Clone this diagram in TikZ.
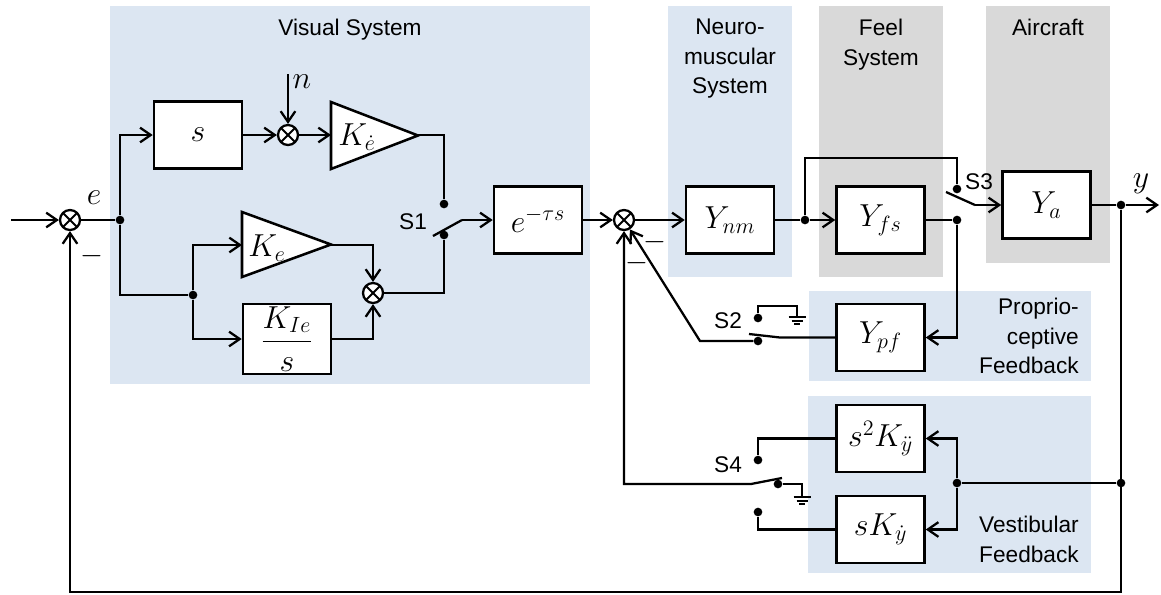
\RequirePackage{fix-cm}
\documentclass[tikz,border=0pt]{standalone}
\usepackage[no-math]{fontspec}
\setmainfont{Liberation Sans}
\usetikzlibrary{arrows.meta}
\definecolor{bgblue}{RGB}{220,230,242}
\definecolor{bggray}{RGB}{217,217,217}
\newcommand\lblfont{\fontsize{17}{22}\selectfont}
\newcommand\mthfont{\fontsize{20.74}{25}\selectfont}
\newcommand\mth[1]{\scalebox{1.15}{$#1$}}
\begin{document}
\begin{tikzpicture}[x=0.75pt,y=-0.75pt,
  ln/.style={line width=1.7pt},
  arr/.style={ln,-{Straight Barb[length=8pt,width=11pt,line width=1.7pt]}},
  blk/.style={draw,line width=1.9pt,fill=white,minimum width=66pt,minimum height=50pt,inner sep=0pt,font=\mthfont},
  sumn/.style={draw,fill=white,circle,line width=1.7pt,minimum size=15pt,inner sep=0pt,
    path picture={\draw[line width=1.5pt] (path picture bounding box.south east) -- (path picture bounding box.north west)
      (path picture bounding box.south west) -- (path picture bounding box.north east);}},
  dotn/.style={circle,fill=black,minimum size=6.5pt,inner sep=0pt},
  lbl/.style={font=\lblfont,inner sep=0pt},
  mlbl/.style={font=\mthfont,inner sep=0pt},
  tri/.style={draw,line width=1.9pt,fill=white,line join=miter},
  gnd/.style={line width=1.2pt},
]
\useasboundingbox (0,0) rectangle (1161,594);
% backgrounds
\fill[bgblue] (110,6) rectangle (590,384);
\fill[bgblue] (668,6) rectangle (792,277);
\fill[bggray] (819,6) rectangle (943,277);
\fill[bggray] (986,6) rectangle (1110,263);
\fill[bgblue] (809,291) rectangle (1091,381);
\fill[bgblue] (808,396) rectangle (1091,573);
% titles
\node[lbl,anchor=north] (tvis) at (350,19) {Visual System};
\node[lbl,anchor=north,align=center] (tneu) at (730,19) {Neuro-\\muscular\\System};
\node[lbl,anchor=north,align=center] (tfeel) at (881,19) {Feel\\System};
\node[lbl,anchor=north] (tair) at (1048,19) {Aircraft};
\node[lbl,anchor=north east,align=right] (tpro) at (1079,298) {Proprio-\\ceptive\\Feedback};
\node[lbl,anchor=north east,align=right] (tves) at (1079,516) {Vestibular\\Feedback};
% blocks
\node[blk] (sbox) at (198,135) {\mth{s}};
\node[blk,minimum height=52.5pt] (kie) at (287,339) {\mth{\displaystyle\frac{K_{Ie}}{s}}};
\node[blk] (ebox) at (538,220) {\mth{e^{-\tau s}}};
\node[blk] (ynm) at (730,220) {\mth{Y_{nm}}};
\node[blk] (yfs) at (880.5,220) {\mth{Y_{fs}}};
\node[blk] (ya) at (1046.5,205) {\mth{Y_{a}}};
\node[blk] (ypf) at (880.5,337.5) {\mth{Y_{pf}}};
\node[blk] (s2k) at (880.5,438.5) {\mth{s^2K_{\ddot y}}};
\node[blk] (sk) at (880.5,529.5) {\mth{sK_{\dot y}}};
% sums
\node[sumn] (sum1) at (70,220) {};
\node[sumn] (sum2) at (288,135) {};
\node[sumn] (sum3) at (373,293) {};
\node[sumn] (sum4) at (624,220) {};
% triangles
\draw[tri] (331,102) -- (418,135.5) -- (331,169) -- cycle;
\coordinate (kdin) at (331,135); \coordinate (kdout) at (418,135);
\node[mlbl] (kdl) at (357,137) {\mth{K_{\dot e}}};
\draw[tri] (242,212) -- (331,244.5) -- (242,277) -- cycle;
\coordinate (kein) at (242,245); \coordinate (keout) at (331,245);
\node[mlbl] (kel) at (267,248) {\mth{K_e}};
% dots
\node[dotn] (j1) at (120,220) {};
\node[dotn] (j2) at (193,295) {};
\node[dotn] (s1t) at (444,204) {};
\node[dotn] (s1b) at (444,235) {};
\node[dotn] (j3) at (805,220) {};
\node[dotn] (s3t) at (957,189) {};
\node[dotn] (j4) at (957,220) {};
\node[dotn] (j5) at (1121,205) {};
\node[dotn] (s2t) at (758,318) {};
\node[dotn] (s2b) at (758,341) {};
\node[dotn] (j6) at (1121,483) {};
\node[dotn] (j7) at (957,483) {};
\node[dotn] (s4t) at (758,460) {};
\node[dotn] (s4m) at (778,484) {};
\node[dotn] (s4b) at (758,512) {};
% connectors: visual system
\coordinate (in) at (11,220);
\draw[arr] (in) -- (sum1);
\draw[ln] (sum1) -- (j1);
\draw[arr] (j1) |- (sbox);
\draw[ln] (j1) |- (j2);
\draw[arr] (sbox) -- (sum2);
\coordinate (nin) at (288,74);
\draw[arr] (nin) -- (sum2);
\draw[arr] (sum2) -- (kdin);
\draw[ln] (kdout) -| (s1t);
\draw[arr] (j2) |- (kein);
\draw[arr] (j2) |- (kie);
\draw[arr] (keout) -| (sum3);
\draw[arr] (kie) -| (sum3);
\draw[ln] (sum3) -| (s1b);
\coordinate (s1p) at (433,236); \coordinate (s1q) at (462,220);
\draw[ln] (s1p) -- (s1q);
\draw[arr] (s1q) -- (ebox);
\draw[arr] (ebox) -- (sum4);
% forward path
\draw[arr] (sum4) -- (ynm);
\draw[ln] (ynm) -- (j3);
\draw[arr] (j3) -- (yfs);
\coordinate (s3up) at (957,158);
\draw[ln] (j3) |- (s3up) -- (s3t);
\coordinate (s3p) at (946,192); \coordinate (s3q) at (975,205);
\draw[ln] (s3p) -- (s3q);
\draw[arr] (s3q) -- (ya);
\draw[ln] (yfs) -- (j4);
\draw[arr] (j4) |- (ypf);
% proprioceptive feedback
\coordinate (s2q) at (780,337.5); \coordinate (s2p) at (749,334);
\draw[ln] (ypf) -- (s2q) -- (s2p);
\coordinate (s2l) at (700,341);
\draw[arr] (s2b) -- (s2l) -- (sum4);
\coordinate (g2c) at (797,306); \coordinate (g2) at (797,317);
\draw[ln] (s2t) |- (g2c) -- (g2);
\draw[gnd] (788.5,317) -- (805.5,317) (791.5,320.7) -- (802.5,320.7) (794,324.2) -- (800,324.2);
% output and outer loop
\draw[ln] (ya) -- (j5);
\coordinate (out) at (1159,205);
\draw[arr] (j5) -- (out);
\coordinate (fb) at (1121,592);
\draw[arr] (j5) -- (fb) -| (sum1);
% vestibular feedback
\draw[ln] (j6) -- (j7);
\draw[arr] (j7) |- (s2k);
\draw[arr] (j7) |- (sk);
\draw[ln] (s2k) -| (s4t);
\draw[ln] (sk) -| (s4b);
\coordinate (g4) at (802,497);
\draw[ln] (s4m) -| (g4);
\draw[gnd] (793.5,497) -- (810.5,497) (796.5,500.7) -- (807.5,500.7) (799,504.2) -- (805,504.2);
\coordinate (s4q) at (782,478); \coordinate (s4p) at (751,484); \coordinate (s4l) at (624,484);
\draw[arr] (s4q) -- (s4p) -- (s4l) -- (sum4);
% labels
\node[lbl] (ls1) at (413,222) {S1};
\node[lbl] (ls2) at (728,321) {S2};
\node[lbl] (ls3) at (979,182) {S3};
\node[lbl] (ls4) at (728,465) {S4};
\node[mlbl] (le) at (94,198) {\mth{e}};
\node[mlbl] (lbn) at (302,82) {\mth{n}};
\node[mlbl] (lby) at (1141,184) {\mth{y}};
\node[lbl] (m1) at (92,256) {\scalebox{1.3}{$-$}};
\node[lbl] (m2) at (655,242) {\scalebox{1.3}{$-$}};
\node[lbl] (m3) at (637,263) {\scalebox{1.3}{$-$}};
\end{tikzpicture}
\end{document}
